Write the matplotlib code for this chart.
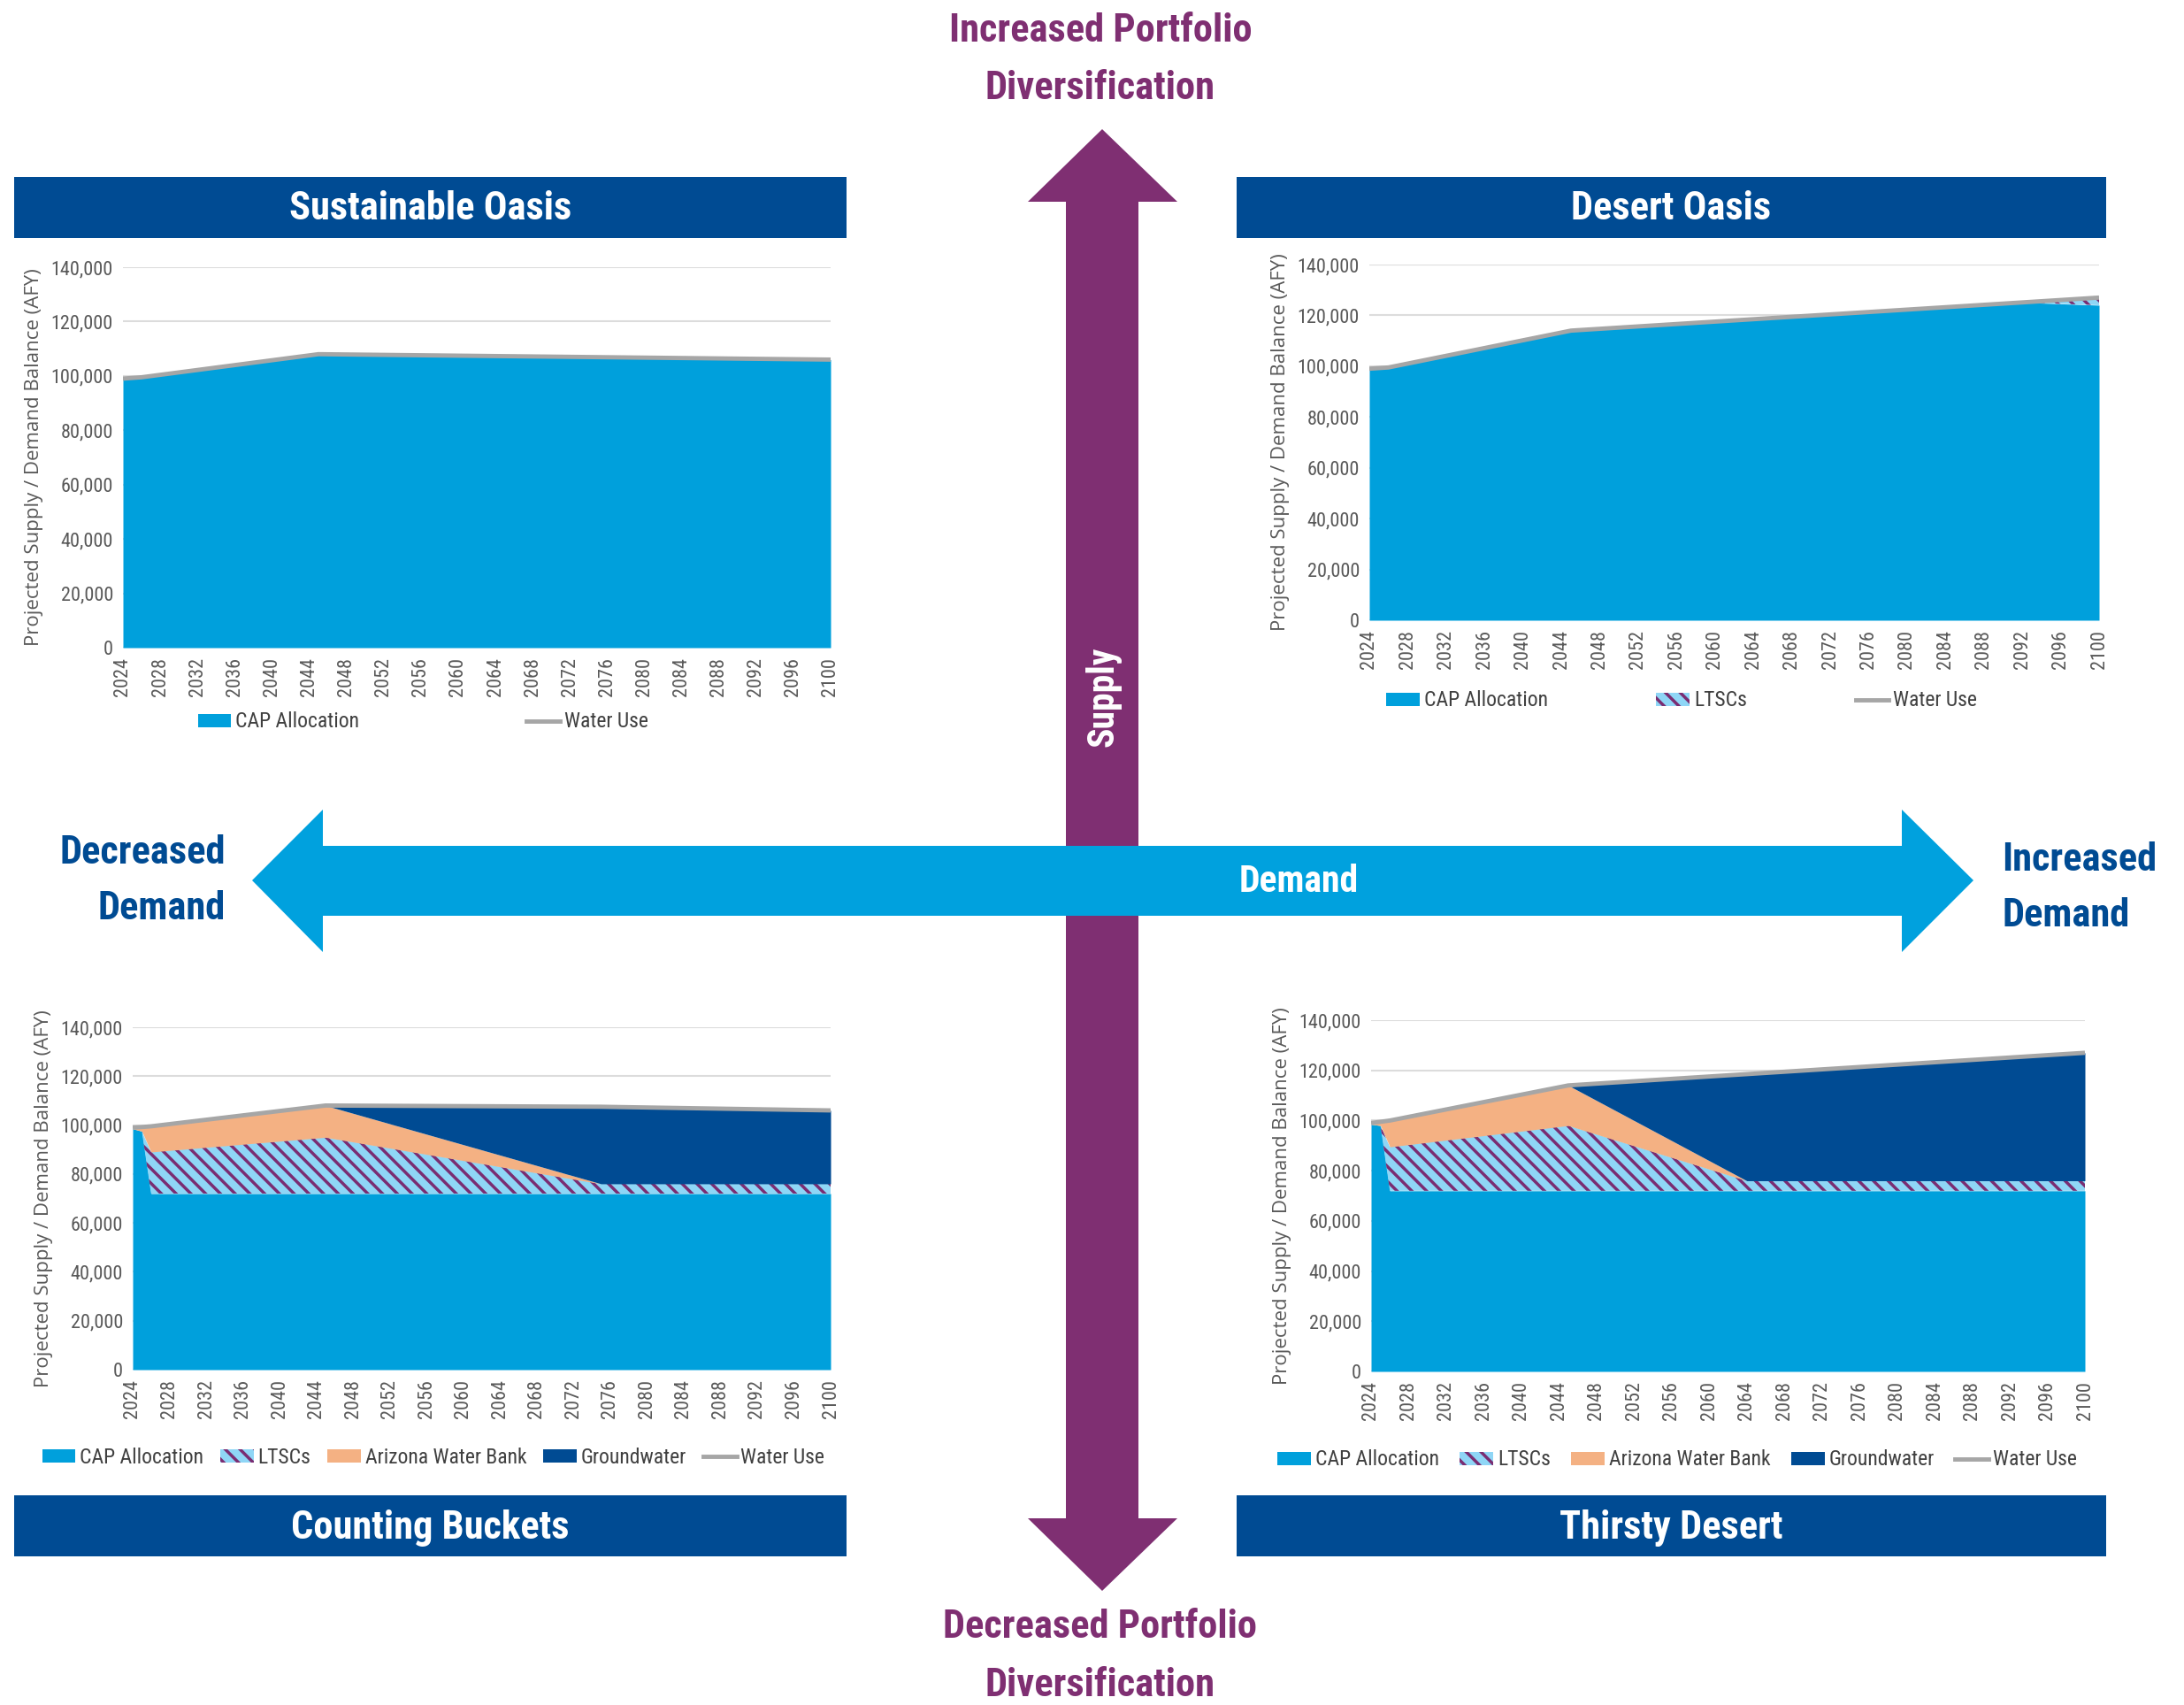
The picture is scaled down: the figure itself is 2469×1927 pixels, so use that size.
import numpy as np
import matplotlib
matplotlib.use("Agg")
import matplotlib.pyplot as plt
from matplotlib import font_manager
from matplotlib.patches import Polygon, Rectangle, Patch
from matplotlib.lines import Line2D
from matplotlib.ticker import FuncFormatter

# Kolory
CAP_BLUE = '#00a0dc'
LTSC_BG = '#8fd6f6'
LTSC_STRIPE = '#7a2d72'
AWB_ORANGE = '#f4b183'
GW_NAVY = '#004b93'
WATER_GREY = '#a6a6a6'
BANNER = '#004b93'
PURPLE = '#7f2f72'
ARROW_BLUE = '#00a1de'
TICK_GREY = '#595959'

# --- Dane ---
tick_years = list(range(2024, 2101, 4))

# Sustainable Oasis
so_years = [2024, 2026, 2045, 2100]
so_use = [99000, 99500, 108000, 106000]
so_cap = [99000, 99500, 108000, 106000]

# Desert Oasis
do_years = [2024, 2026, 2045, 2092, 2100]
do_use = [99000, 99500, 114000, 125100, 127000]
do_cap = [99000, 99500, 114000, 125100, 124000]
do_ltsc = [0, 0, 0, 0, 3000]

# Counting Buckets
cb_years = [2024, 2025, 2026, 2045, 2075, 2100]
cb_use = [99000, 99200, 99500, 108000, 107500, 106000]
cb_cap = [98500, 97500, 72000, 72000, 72000, 72000]
cb_ltsc = [0, 0, 17000, 23000, 4000, 4000]
cb_awb = [0, 1700, 10500, 13000, 0, 0]
cb_gw = [0, 0, 0, 0, 31500, 30000]

# Thirsty Desert
td_years = [2024, 2025, 2026, 2045, 2064, 2100]
td_use = [99000, 99500, 100000, 114000, 118500, 127000]
td_cap = [98500, 98000, 72000, 72000, 72000, 72000]
td_ltsc = [0, 0, 17500, 26000, 4000, 4000]
td_awb = [0, 1500, 10500, 16000, 0, 0]
td_gw = [0, 0, 0, 0, 42500, 51000]


def pick_condensed():
    """Wybiera waska czcionke sposrod zainstalowanych."""
    fonts = font_manager.fontManager.ttflist
    names = {f.name for f in fonts}
    for cand in ['Roboto Condensed', 'Liberation Sans Narrow', 'Noto Sans Condensed',
                 'Open Sans Condensed', 'DejaVu Sans Condensed']:
        if cand in names:
            return cand, 'normal'
    for f in fonts:
        if str(f.stretch) in ('condensed', 'semi-condensed', 'extra-condensed'):
            return f.name, f.stretch
    return 'DejaVu Sans', 'condensed'


NARROW_NAME, NARROW_STRETCH = pick_condensed()
NARROW = [NARROW_NAME, 'DejaVu Sans']

plt.rcParams['hatch.linewidth'] = 2.5

W, H = 2469, 1927
fig = plt.figure(figsize=(W / 100, H / 100), dpi=100)
fig.patch.set_facecolor('white')

# Tlo w pikselach do strzalek i naglowkow
bg = fig.add_axes([0, 0, 1, 1])
bg.set_xlim(0, W)
bg.set_ylim(H, 0)
bg.axis('off')

STYLES = {
    'cap': dict(facecolor=CAP_BLUE, edgecolor=CAP_BLUE),
    'ltsc': dict(facecolor=LTSC_BG, edgecolor=LTSC_STRIPE, hatch='\\\\'),
    'awb': dict(facecolor=AWB_ORANGE, edgecolor=AWB_ORANGE),
    'gw': dict(facecolor=GW_NAVY, edgecolor=GW_NAVY),
}
LABELS = {'cap': 'CAP Allocation', 'ltsc': 'LTSCs', 'awb': 'Arizona Water Bank',
          'gw': 'Groundwater'}


def px_axes(x0, y_top, x1, y_bot):
    """Tworzy osie na podstawie wspolrzednych pikselowych."""
    return fig.add_axes([x0 / W, 1 - y_bot / H, (x1 - x0) / W, (y_bot - y_top) / H])


def draw_chart(box, years, layers, use, legend_keys, legend_x, legend_y, colspace):
    ax = px_axes(*box)
    bottom = np.zeros(len(years))
    for key, values in layers:
        top = bottom + np.array(values, dtype=float)
        ax.fill_between(years, bottom, top, linewidth=0, zorder=2, **STYLES[key])
        bottom = top
    ax.plot(years, use, color=WATER_GREY, lw=3.5, zorder=3, solid_capstyle='butt')

    ax.set_xlim(2024, 2100)
    ax.set_ylim(0, 140000)
    ax.set_yticks(range(0, 140001, 20000))
    ax.yaxis.set_major_formatter(FuncFormatter(lambda v, p: f'{int(v):,}'))
    ax.set_xticks(tick_years)
    ax.set_xticklabels([str(y) for y in tick_years], rotation=90)
    for s in ax.spines.values():
        s.set_visible(False)
    ax.grid(axis='y', color='#dcdcdc', lw=1.5, zorder=0)
    ax.set_axisbelow(True)
    ax.tick_params(length=0, labelsize=16, labelcolor=TICK_GREY, pad=8)
    for lab in ax.get_xticklabels() + ax.get_yticklabels():
        lab.set_family(NARROW)
        lab.set_stretch(NARROW_STRETCH)
    ax.set_ylabel('Projected Supply / Demand Balance (AFY)', fontsize=16,
                  color=TICK_GREY, family=['Open Sans', 'DejaVu Sans'], labelpad=6)

    handles = []
    for key in legend_keys:
        handles.append(Patch(label=LABELS[key], linewidth=0, **STYLES[key]))
    handles.append(Line2D([], [], color=WATER_GREY, lw=3.5, label='Water Use'))
    fig.legend(handles=handles, loc='center', ncol=len(handles),
               bbox_to_anchor=(legend_x / W, 1 - legend_y / H), frameon=False,
               prop={'family': NARROW, 'size': 17, 'stretch': NARROW_STRETCH},
               labelcolor='#404040', handlelength=1.6, handleheight=0.6,
               handletextpad=0.2, columnspacing=colspace)
    return ax


draw_chart((139, 302, 939, 732), so_years, [('cap', so_cap)], so_use,
           ['cap'], 478, 816, 8.0)
draw_chart((1548, 299, 2373, 701), do_years, [('cap', do_cap), ('ltsc', do_ltsc)],
           do_use, ['cap', 'ltsc'], 1901, 792, 5.2)
draw_chart((150, 1161, 939, 1548), cb_years,
           [('cap', cb_cap), ('ltsc', cb_ltsc), ('awb', cb_awb), ('gw', cb_gw)],
           cb_use, ['cap', 'ltsc', 'awb', 'gw'], 490, 1647, 0.8)
draw_chart((1550, 1153, 2357, 1550), td_years,
           [('cap', td_cap), ('ltsc', td_ltsc), ('awb', td_awb), ('gw', td_gw)],
           td_use, ['cap', 'ltsc', 'awb', 'gw'], 1896, 1650, 1.0)

# Naglowki scenariuszy
banners = [
    ((16, 200, 957, 269), 'Sustainable Oasis'),
    ((1398, 200, 2381, 269), 'Desert Oasis'),
    ((16, 1690, 957, 1759), 'Counting Buckets'),
    ((1398, 1690, 2381, 1759), 'Thirsty Desert'),
]
title_font = dict(family=NARROW, weight='bold', fontsize=32, stretch=NARROW_STRETCH)
for (x0, y0, x1, y1), name in banners:
    bg.add_patch(Rectangle((x0, y0), x1 - x0, y1 - y0, facecolor=BANNER, lw=0))
    bg.text((x0 + x1) / 2, (y0 + y1) / 2 + 2, name, color='white', ha='center',
            va='center', **title_font)

# Strzalka pionowa (podaz)
vx0, vx1, vh0, vh1 = 1205, 1287, 1162, 1331
vert = [(1246, 146), (vh1, 228), (vx1, 228), (vx1, 1716), (vh1, 1716), (1246, 1798),
        (vh0, 1716), (vx0, 1716), (vx0, 228), (vh0, 228)]
bg.add_patch(Polygon(vert, closed=True, facecolor=PURPLE, lw=0, zorder=1))

# Strzalka pozioma (popyt)
hy0, hy1, hh0, hh1 = 956, 1035, 915, 1076
horiz = [(285, 995), (365, hh0), (365, hy0), (2150, hy0), (2150, hh0), (2231, 995),
         (2150, hh1), (2150, hy1), (365, hy1), (365, hh1)]
bg.add_patch(Polygon(horiz, closed=True, facecolor=ARROW_BLUE, lw=0, zorder=2))

big = dict(family=NARROW, weight='bold', fontsize=32, stretch=NARROW_STRETCH)
inner = dict(family=NARROW, weight='bold', fontsize=30, stretch=NARROW_STRETCH)
bg.text(1468, 997, 'Demand', color='white', ha='center', va='center', zorder=3, **inner)
bg.text(1247, 787, 'Supply', color='white', ha='center', va='center', rotation=90,
        zorder=3, **inner)

bg.text(1244, 35, 'Increased Portfolio', color=PURPLE, ha='center', va='center', **big)
bg.text(1244, 100, 'Diversification', color=PURPLE, ha='center', va='center', **big)
bg.text(1244, 1839, 'Decreased Portfolio', color=PURPLE, ha='center', va='center', **big)
bg.text(1244, 1905, 'Diversification', color=PURPLE, ha='center', va='center', **big)

bg.text(255, 964, 'Decreased', color=BANNER, ha='right', va='center', **big)
bg.text(255, 1027, 'Demand', color=BANNER, ha='right', va='center', **big)
bg.text(2263, 972, 'Increased', color=BANNER, ha='left', va='center', **big)
bg.text(2263, 1035, 'Demand', color=BANNER, ha='left', va='center', **big)

fig.savefig('out.png', dpi=100)
